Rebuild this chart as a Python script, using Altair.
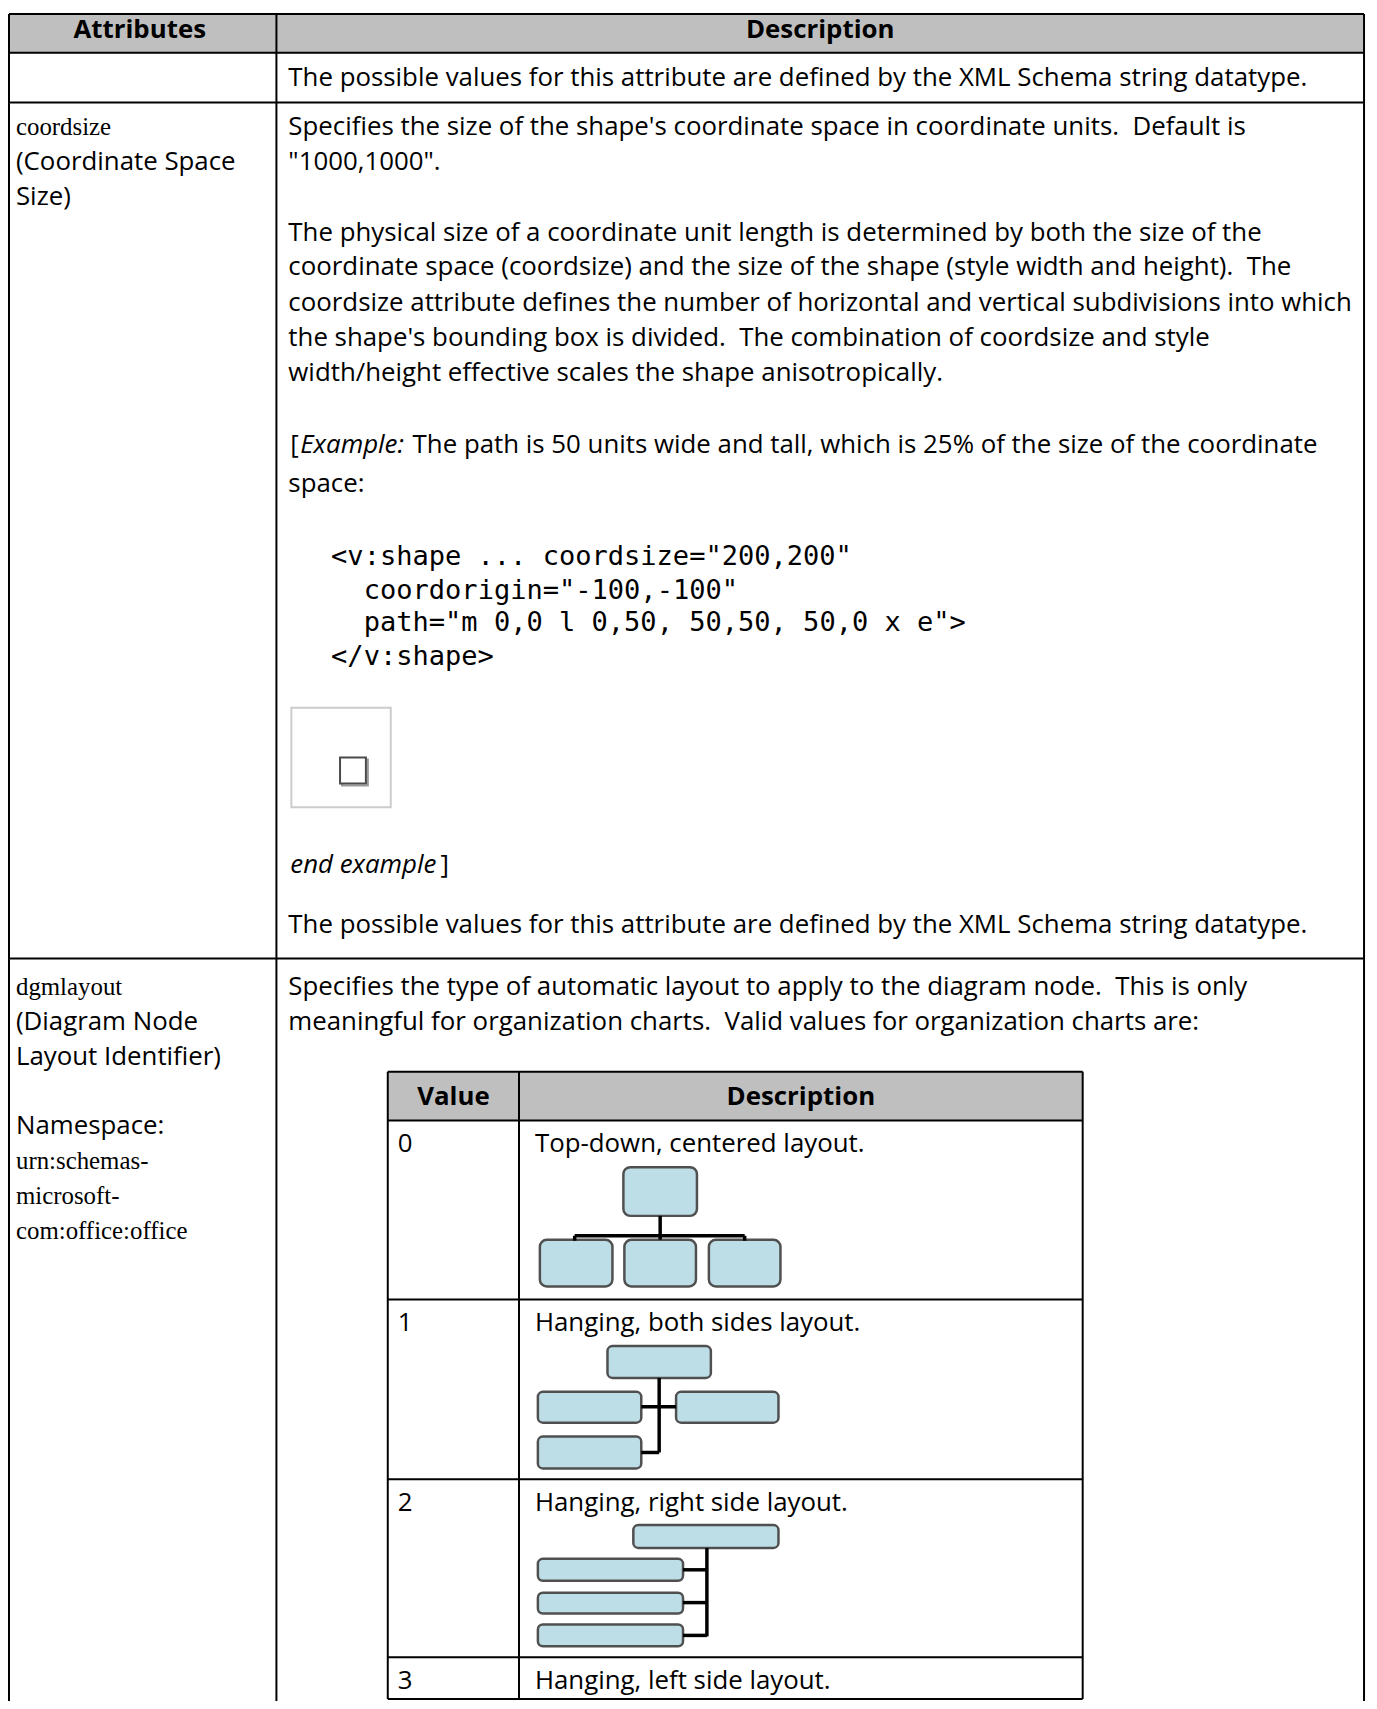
import altair as alt
import pandas as pd

# ---------------- content (text) ----------------
NB = "\u00a0 "  # double space kept visible

outer_headers = ["Attributes", "Description"]
row1_desc = "The possible values for this attribute are defined by the XML Schema string datatype."

coord_attr_lines = ["coordsize", "(Coordinate Space", "Size)"]
coord_attr_serif = [True, False, False]

coord_desc_lines = [
    "Specifies the size of the shape's coordinate space in coordinate units." + NB + "Default is",
    "\"1000,1000\".",
    "The physical size of a coordinate unit length is determined by both the size of the",
    "coordinate space (coordsize) and the size of the shape (style width and height)." + NB + "The",
    "coordsize attribute defines the number of horizontal and vertical subdivisions into which",
    "the shape's bounding box is divided." + NB + "The combination of coordsize and style",
    "width/height effective scales the shape anisotropically.",
]

example_open = ["[", "Example:", "The path is 50 units wide and tall, which is 25% of the size of the coordinate"]
example_open_style = ["sans", "italic", "sans"]
example_cont = "space:"

code_lines = ['<v:shape ... coordsize="200,200"', 'coordorigin="-100,-100"',
              'path="m 0,0 l 0,50, 50,50, 50,0 x e">', '</v:shape>']
code_indent = [0, 2, 2, 0]

example_close = ["end example", "]"]
example_close_style = ["italic", "sans"]
closing_desc = "The possible values for this attribute are defined by the XML Schema string datatype."

dgm_attr_lines = ["dgmlayout", "(Diagram Node", "Layout Identifier)", "Namespace:",
                  "urn:schemas-", "microsoft-", "com:office:office"]
dgm_attr_serif = [True, False, False, False, True, True, True]
dgm_desc_lines = [
    "Specifies the type of automatic layout to apply to the diagram node." + NB + "This is only",
    "meaningful for organization charts." + NB + "Valid values for organization charts are:",
]

inner_headers = ["Value", "Description"]
inner_values = ["0", "1", "2", "3"]
inner_descs = ["Top-down, centered layout.", "Hanging, both sides layout.",
               "Hanging, right side layout.", "Hanging, left side layout."]

# ---------------- layout ----------------
OUT_L, OUT_COL, OUT_R = 9, 278, 1372
OUT_ROWS = [9, 48, 98, 959]
OUT_BOTTOM = 1709
TXT_L_ATTR, TXT_L_DESC = 16, 290

coord_attr_y = [123, 158, 193]
coord_desc_y = [123, 158, 229, 264, 300, 335, 370]
example_y, example_cont_y = 443, 482
code_y = [555, 589, 622, 656]
close_y, closing_desc_y = 865, 925
dgm_attr_y = [988, 1023, 1058, 1128, 1163, 1198, 1233]
dgm_desc_y = [988, 1023]

IN_L, IN_COL, IN_R = 390, 522, 1089
IN_ROWS = [1073, 1122, 1302, 1483, 1662, 1704]

MONO_CHAR = 16.4
CODE_X = 333

# org chart pictures (box extents, connector segments)
org_boxes = [
    (627, 701, 1169, 1218), (543, 616, 1242, 1289), (628, 700, 1242, 1289), (713, 785, 1242, 1289),
    (611, 715, 1349, 1381), (541, 645, 1395, 1426), (680, 783, 1395, 1426), (541, 645, 1440, 1472),
    (637, 783, 1529, 1552), (541, 687, 1563, 1585), (541, 687, 1597, 1618), (541, 687, 1629, 1651),
]
org_links = [
    (664, 664, 1218, 1242), (578, 749, 1238, 1238), (578, 578, 1238, 1243), (749, 749, 1238, 1243),
    (663, 663, 1381, 1456), (645, 680, 1410, 1410), (645, 663, 1456, 1456),
    (711, 711, 1552, 1641), (687, 711, 1574, 1574), (687, 711, 1607, 1607), (687, 711, 1640, 1640),
]

# ---------------- build tables ----------------
texts = []
def add(x, y, t, style):
    texts.append({"x": x, "y": y, "text": t, "style": style})

add((3 + OUT_COL) / 2, 25, outer_headers[0], "bold")
add((OUT_COL + OUT_R) / 2, 25, outer_headers[1], "bold")
add(TXT_L_DESC, 73, row1_desc, "sans")
for t, s, yy in zip(coord_attr_lines, coord_attr_serif, coord_attr_y):
    add(TXT_L_ATTR, yy, t, "serif" if s else "sans")
for t, yy in zip(coord_desc_lines, coord_desc_y):
    add(TXT_L_DESC, yy, t, "sans")
for t, s, xx in zip(example_open, example_open_style, [292, 302, 415]):
    add(xx, example_y, t, s)
add(TXT_L_DESC, example_cont_y, example_cont, "sans")
for t, ind, yy in zip(code_lines, code_indent, code_y):
    add(CODE_X + ind * MONO_CHAR, yy, t, "mono")
for t, s, xx in zip(example_close, example_close_style, [292, 443]):
    add(xx, close_y, t, s)
add(TXT_L_DESC, closing_desc_y, closing_desc, "sans")
for t, s, yy in zip(dgm_attr_lines, dgm_attr_serif, dgm_attr_y):
    add(TXT_L_ATTR, yy, t, "serif" if s else "sans")
for t, yy in zip(dgm_desc_lines, dgm_desc_y):
    add(TXT_L_DESC, yy, t, "sans")
add((IN_L + IN_COL) / 2, 1098, inner_headers[0], "bold")
add((IN_COL + IN_R) / 2, 1098, inner_headers[1], "bold")
for i, (v, d) in enumerate(zip(inner_values, inner_descs)):
    add(IN_L + 10, IN_ROWS[i + 1] + 24, v, "sans")
    add(IN_COL + 16, IN_ROWS[i + 1] + 24, d, "sans")
tdf = pd.DataFrame(texts)

fills = pd.DataFrame([
    {"x": OUT_L, "x2": OUT_R, "y": OUT_ROWS[0], "y2": OUT_ROWS[1], "c": "#bfbfbf"},
    {"x": IN_L, "x2": IN_R, "y": IN_ROWS[0], "y2": IN_ROWS[1], "c": "#bfbfbf"},
])

frames = pd.DataFrame([
    {"x": 293, "x2": 393, "y": 707, "y2": 807, "c": "#cccccc"},
])
square = pd.DataFrame([
    {"x": 344, "x2": 370, "y": 759, "y2": 785, "c": "#9a9a9a"},
    {"x": 342, "x2": 368, "y": 757, "y2": 783, "c": "#4a4a4a"},
])

rules = []
for yy in OUT_ROWS:
    rules.append({"x": OUT_L, "x2": OUT_R, "y": yy, "y2": yy, "w": 2})
for xx in [OUT_L, OUT_COL, OUT_R]:
    rules.append({"x": xx, "x2": xx, "y": OUT_ROWS[0], "y2": OUT_BOTTOM, "w": 2})
for yy in IN_ROWS:
    rules.append({"x": IN_L, "x2": IN_R, "y": yy, "y2": yy, "w": 2})
for xx in [IN_L, IN_COL, IN_R]:
    rules.append({"x": xx, "x2": xx, "y": IN_ROWS[0], "y2": IN_ROWS[-1], "w": 2})
for (a, b, c, d) in org_links:
    rules.append({"x": a, "x2": b, "y": c, "y2": d, "w": 3.5})
rdf = pd.DataFrame(rules)

bdf = pd.DataFrame([{"x": a, "x2": b, "y": c, "y2": d} for (a, b, c, d) in org_boxes])
bdf["big"] = [1, 1, 1, 1] + [0] * 8

# ---------------- chart ----------------
XS = alt.Scale(domain=[8, 1377], nice=False, zero=False)
YS = alt.Scale(domain=[8, 1701], nice=False, zero=False, reverse=True)
X = alt.X("x:Q", scale=XS, axis=None)
Y = alt.Y("y:Q", scale=YS, axis=None)

fill_layer = alt.Chart(fills).mark_rect().encode(
    x=X, x2="x2:Q", y=Y, y2="y2:Q", fill=alt.Fill("c:N", scale=None))
frame_layer = alt.Chart(frames).mark_rect(fill="white", strokeWidth=2).encode(
    x=X, x2="x2:Q", y=Y, y2="y2:Q", stroke=alt.Stroke("c:N", scale=None))
square_layer = alt.Chart(square).mark_rect(fill="white", strokeWidth=2).encode(
    x=X, x2="x2:Q", y=Y, y2="y2:Q", stroke=alt.Stroke("c:N", scale=None))
big_boxes = alt.Chart(bdf[bdf.big == 1]).mark_rect(
    fill="#bddde7", stroke="#505050", strokeWidth=2.5, cornerRadius=7).encode(
    x=X, x2="x2:Q", y=Y, y2="y2:Q")
small_boxes = alt.Chart(bdf[bdf.big == 0]).mark_rect(
    fill="#bddde7", stroke="#505050", strokeWidth=2.5, cornerRadius=5).encode(
    x=X, x2="x2:Q", y=Y, y2="y2:Q")
rule_layer = alt.Chart(rdf).mark_rule(color="black").encode(
    x=X, x2="x2:Q", y=Y, y2="y2:Q", strokeWidth=alt.StrokeWidth("w:Q", scale=None))

SANS = "Open Sans"
FS = 26
def text_layer(style, **kw):
    d = tdf[tdf["style"] == style]
    return alt.Chart(d).mark_text(baseline="middle", color="black", **kw).encode(
        x=X, y=Y, text="text:N")

t_sans = text_layer("sans", align="left", font=SANS, fontSize=FS)
t_bold = text_layer("bold", align="center", font=SANS, fontSize=FS, fontWeight="bold")
t_ital = text_layer("italic", align="left", font=SANS, fontSize=FS, fontStyle="italic")
t_serif = text_layer("serif", align="left", font="Liberation Serif", fontSize=25)
t_mono = text_layer("mono", align="left", font="DejaVu Sans Mono", fontSize=27.2)

chart = alt.layer(
    fill_layer, frame_layer, square_layer, big_boxes, small_boxes, rule_layer,
    t_sans, t_bold, t_ital, t_serif, t_mono,
).properties(
    width=1369, height=1693, padding=0, autosize=alt.AutoSizeParams(type="none"),
    background="white",
).configure_view(stroke=None)

chart.save("out.html", embed_options={"renderer": "svg", "actions": False})
